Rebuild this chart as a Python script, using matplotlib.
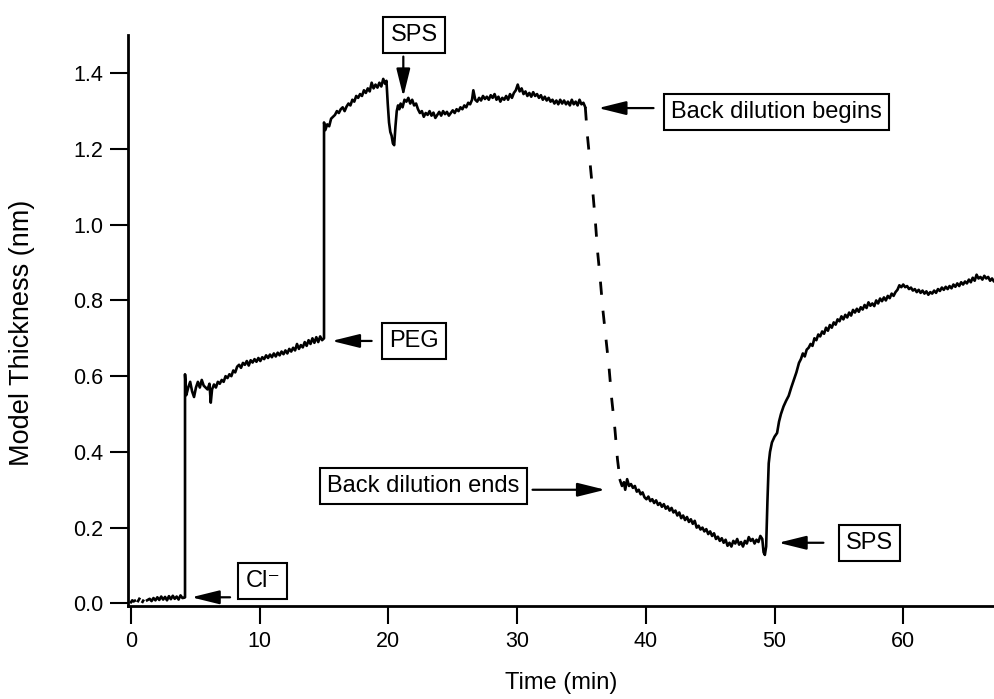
import numpy as np
import matplotlib
matplotlib.use('Agg')
import matplotlib.pyplot as plt
from matplotlib.patches import ArrowStyle

# thickness trace (solid part); NaN = gap in the record
time_min = [
    0.00, 0.10, 0.20, 0.30, 0.40, 0.55, 0.65, 0.75, 0.90, 0.95, 1.05,
    1.25, 1.45, 1.60, 1.75, 1.90, 2.05, 2.20, 2.35, 2.50, 2.65, 2.80,
    2.95, 3.10, 3.25, 3.40, 3.55, 3.70, 3.85, 4.00, 4.15, 4.20,
    # Cl- step
    4.20, 4.30, 4.45, 4.60, 4.75, 4.90, 5.05, 5.20, 5.35, 5.50, 5.65,
    5.80, 5.95, 6.10, 6.20, 6.30, 6.45, 6.60, 6.75, 6.90, 7.05, 7.20,
    7.35, 7.50, 7.65, 7.80, 7.95, 8.10, 8.25, 8.40, 8.55, 8.70, 8.85,
    9.00, 9.15, 9.30, 9.45, 9.60, 9.75, 9.90, 10.05, 10.20, 10.35,
    10.50, 10.65, 10.80, 10.95, 11.10, 11.25, 11.40, 11.55, 11.70,
    11.85, 12.00, 12.15, 12.30, 12.45, 12.60, 12.75, 12.90, 13.05,
    13.20, 13.35, 13.50, 13.65, 13.80, 13.95, 14.10, 14.25, 14.40,
    14.55, 14.70, 14.85, 15.00,
    # PEG step
    15.00, 15.10, 15.25, 15.40, 15.55, 15.70, 15.85, 16.00, 16.15,
    16.30, 16.45, 16.60, 16.75, 16.90, 17.05, 17.20, 17.35, 17.50,
    17.65, 17.80, 17.95, 18.10, 18.25, 18.40, 18.55, 18.70, 18.85,
    19.00, 19.15, 19.30, 19.45, 19.60, 19.75, 19.85, 19.95, 20.05,
    20.15, 20.25, 20.35, 20.45, 20.55, 20.65, 20.75, 20.85, 20.95,
    21.10, 21.25, 21.40, 21.55, 21.70, 21.85, 22.00, 22.15, 22.30,
    22.45, 22.60, 22.75, 22.90, 23.05, 23.20, 23.35, 23.50, 23.65,
    23.80, 23.95, 24.10, 24.25, 24.40, 24.55, 24.70, 24.85, 25.00,
    25.15, 25.30, 25.45, 25.60, 25.75, 25.90, 26.05, 26.20, 26.35,
    26.50, 26.60, 26.75, 26.90, 27.05, 27.20, 27.35, 27.50, 27.65,
    27.80, 27.95, 28.10, 28.25, 28.40, 28.55, 28.70, 28.85, 29.00,
    29.15, 29.30, 29.45, 29.60, 29.75, 29.90, 30.05, 30.20, 30.35,
    30.50, 30.65, 30.80, 30.95, 31.10, 31.25, 31.40, 31.55, 31.70,
    31.85, 32.00, 32.15, 32.30, 32.45, 32.60, 32.75, 32.90, 33.05,
    33.20, 33.35, 33.50, 33.65, 33.80, 33.95, 34.10, 34.25, 34.40,
    34.55, 34.70, 34.85, 35.00, 35.15, 35.30, 35.31,
    # after back dilution
    38.00, 38.15, 38.30, 38.40, 38.55, 38.70, 38.85, 39.00, 39.15,
    39.30, 39.45, 39.60, 39.75, 39.90, 40.05, 40.20, 40.35, 40.50,
    40.65, 40.80, 40.95, 41.10, 41.25, 41.40, 41.55, 41.70, 41.85,
    42.00, 42.15, 42.30, 42.45, 42.60, 42.75, 42.90, 43.05, 43.20,
    43.35, 43.50, 43.65, 43.80, 43.95, 44.10, 44.25, 44.40, 44.55,
    44.70, 44.85, 45.00, 45.15, 45.30, 45.45, 45.60, 45.75, 45.90,
    46.05, 46.20, 46.35, 46.50, 46.65, 46.80, 46.95, 47.10, 47.25,
    47.40, 47.55, 47.70, 47.85, 48.00, 48.15, 48.30, 48.45, 48.60,
    48.75, 48.90, 49.05, 49.15, 49.25, 49.35,
    # SPS rise
    49.45, 49.55, 49.65, 49.80, 50.00, 50.20, 50.35, 50.50, 50.70,
    50.90, 51.10, 51.30, 51.50, 51.70, 51.90, 52.05, 52.20, 52.35,
    52.50, 52.65, 52.80, 52.95, 53.10, 53.25, 53.40, 53.55, 53.70,
    53.85, 54.00, 54.15, 54.30, 54.45, 54.60, 54.75, 54.90, 55.05,
    55.20, 55.35, 55.50, 55.65, 55.80, 55.95, 56.10, 56.25, 56.40,
    56.55, 56.70, 56.85, 57.00, 57.15, 57.30, 57.45, 57.60, 57.75,
    57.90, 58.05, 58.20, 58.35, 58.50, 58.65, 58.80, 58.95, 59.10,
    59.25, 59.40, 59.55, 59.70, 59.85, 60.00, 60.15, 60.30, 60.45,
    60.60, 60.75, 60.90, 61.05, 61.20, 61.35, 61.50, 61.65, 61.80,
    61.95, 62.10, 62.25, 62.40, 62.55, 62.70, 62.85, 63.00, 63.15,
    63.30, 63.45, 63.60, 63.75, 63.90, 64.05, 64.20, 64.35, 64.50,
    64.65, 64.80, 64.95, 65.10, 65.25, 65.40, 65.55, 65.70, 65.85,
    66.00, 66.15, 66.30, 66.45, 66.60, 66.75, 66.90, 67.05, 67.20,
]
thickness_nm = [
    0.003, 0.008, 0.005, 0.007, np.nan, 0.006, 0.012, np.nan, 0.004, 0.007, np.nan,
    0.008, 0.012, 0.006, 0.014, 0.008, 0.016, 0.009, 0.018, 0.010, 0.017, 0.008,
    0.019, 0.011, 0.020, 0.012, 0.018, 0.010, 0.021, 0.014, 0.015, 0.016,
    0.605, 0.550, 0.570, 0.585, 0.560, 0.545, 0.570, 0.585, 0.570, 0.590, 0.575,
    0.570, 0.565, 0.580, 0.530, 0.565, 0.578, 0.570, 0.585, 0.580, 0.590, 0.585,
    0.600, 0.595, 0.605, 0.600, 0.615, 0.610, 0.625, 0.630, 0.622, 0.635, 0.630,
    0.640, 0.628, 0.642, 0.636, 0.645, 0.638, 0.648, 0.640, 0.650, 0.645,
    0.655, 0.648, 0.657, 0.650, 0.660, 0.652, 0.662, 0.655, 0.665,
    0.658, 0.668, 0.660, 0.672, 0.665, 0.675, 0.668, 0.685, 0.672,
    0.682, 0.676, 0.690, 0.680, 0.695, 0.685, 0.700, 0.688, 0.703,
    0.690, 0.705, 0.695, 0.700,
    1.270, 1.250, 1.265, 1.260, 1.280, 1.285, 1.290, 1.300, 1.295,
    1.305, 1.310, 1.300, 1.312, 1.320, 1.315, 1.330, 1.325, 1.340,
    1.335, 1.345, 1.340, 1.355, 1.348, 1.360, 1.352, 1.375, 1.360,
    1.370, 1.362, 1.375, 1.365, 1.385, 1.372, 1.380, 1.320, 1.270,
    1.245, 1.235, 1.215, 1.210, 1.260, 1.300, 1.315, 1.305, 1.320,
    1.310, 1.330, 1.325, 1.335, 1.320, 1.330, 1.315, 1.320, 1.305,
    1.295, 1.300, 1.285, 1.295, 1.290, 1.300, 1.288, 1.296, 1.282,
    1.290, 1.298, 1.288, 1.300, 1.292, 1.298, 1.288, 1.295, 1.302,
    1.295, 1.305, 1.300, 1.310, 1.305, 1.315, 1.310, 1.322, 1.318,
    1.330, 1.355, 1.330, 1.325, 1.335, 1.328, 1.340, 1.332, 1.338,
    1.330, 1.342, 1.335, 1.345, 1.330, 1.338, 1.325, 1.335, 1.330,
    1.340, 1.330, 1.345, 1.335, 1.348, 1.355, 1.370, 1.352, 1.360,
    1.345, 1.352, 1.340, 1.348, 1.338, 1.350, 1.340, 1.345, 1.335,
    1.342, 1.330, 1.338, 1.328, 1.335, 1.325, 1.330, 1.320, 1.328,
    1.318, 1.330, 1.320, 1.328, 1.318, 1.325, 1.315, 1.330, 1.318,
    1.325, 1.315, 1.330, 1.318, 1.322, 1.310, np.nan,
    0.325, 0.310, 0.320, 0.300, 0.328, 0.310, 0.315, 0.305, 0.310,
    0.295, 0.300, 0.288, 0.293, 0.280, 0.275, 0.282, 0.270, 0.275,
    0.265, 0.272, 0.260, 0.265, 0.255, 0.262, 0.250, 0.256, 0.245,
    0.252, 0.240, 0.245, 0.232, 0.240, 0.225, 0.232, 0.220, 0.228,
    0.215, 0.222, 0.210, 0.218, 0.200, 0.205, 0.195, 0.200, 0.190,
    0.196, 0.183, 0.190, 0.178, 0.185, 0.170, 0.176, 0.165, 0.172,
    0.160, 0.168, 0.152, 0.160, 0.150, 0.165, 0.158, 0.170, 0.155,
    0.162, 0.150, 0.165, 0.158, 0.175, 0.165, 0.170, 0.158, 0.168,
    0.162, 0.178, 0.170, 0.135, 0.128, 0.150,
    0.270, 0.370, 0.400, 0.425, 0.440, 0.450, 0.480, 0.500, 0.520,
    0.535, 0.548, 0.570, 0.590, 0.610, 0.635, 0.645, 0.660, 0.652,
    0.670, 0.675, 0.685, 0.680, 0.700, 0.695, 0.710, 0.705, 0.718,
    0.712, 0.728, 0.720, 0.735, 0.728, 0.742, 0.736, 0.750, 0.745,
    0.758, 0.750, 0.762, 0.755, 0.768, 0.760, 0.775, 0.768, 0.778,
    0.770, 0.782, 0.776, 0.788, 0.780, 0.795, 0.786, 0.792, 0.785,
    0.800, 0.792, 0.805, 0.798, 0.808, 0.800, 0.812, 0.806, 0.818,
    0.812, 0.822, 0.828, 0.840, 0.835, 0.842, 0.835, 0.838, 0.830,
    0.834, 0.826, 0.830, 0.822, 0.828, 0.820, 0.826, 0.818, 0.824,
    0.815, 0.822, 0.818, 0.826, 0.820, 0.830, 0.825, 0.834, 0.828,
    0.836, 0.830, 0.838, 0.832, 0.842, 0.836, 0.845, 0.838, 0.848,
    0.842, 0.850, 0.845, 0.855, 0.848, 0.860, 0.852, 0.868, 0.858,
    0.862, 0.855, 0.865, 0.858, 0.862, 0.852, 0.858, 0.850, 0.855,
]

# fast drop during back dilution, drawn dashed in the original
dilution_time = [35.30, 35.45, 35.65, 35.90, 36.10, 36.25, 36.45, 36.65,
                 36.90, 37.15, 37.35, 37.60, 37.80, 38.00]
dilution_thick = [1.310, 1.240, 1.170, 1.080, 1.000, 0.930, 0.860, 0.780,
                  0.700, 0.620, 0.540, 0.460, 0.380, 0.325]

x_ticks = [0, 10, 20, 30, 40, 50, 60]
y_ticks = [0.0, 0.2, 0.4, 0.6, 0.8, 1.0, 1.2, 1.4]

# annotation: label, arrow tip, arrow tail, text centre (data coords)
notes = [
    ('Cl\u207b', (4.7, 0.016), (7.7, 0.016), (10.25, 0.059)),
    ('PEG', (15.6, 0.693), (18.7, 0.693), (22.0, 0.693)),
    ('SPS', (21.16, 1.338), (21.16, 1.444), (22.0, 1.501)),
    ('Back dilution begins', (36.3, 1.308), (40.6, 1.308), (50.15, 1.298)),
    ('Back dilution ends', (36.85, 0.300), (31.2, 0.300), (22.73, 0.310)),
    ('SPS', (50.3, 0.160), (53.8, 0.160), (57.4, 0.160)),
]

plt.rcParams['font.family'] = ['Liberation Sans', 'DejaVu Sans']
plt.rcParams['lines.scale_dashes'] = False

fig = plt.figure(figsize=(9.95, 6.99), dpi=100)
ax = fig.add_axes([128 / 995, 1 - 606 / 699, 1 - 128 / 995, 571 / 699])

ax.plot(time_min, thickness_nm, color='black', lw=1.9)
ax.plot(dilution_time, dilution_thick, color='black', lw=2.0, dashes=(9.5, 11.5))

head = ArrowStyle('-|>', head_length=1.7, head_width=0.42)
for label, tip, tail, txt in notes:
    ax.annotate('', xy=tip, xytext=tail,
                arrowprops=dict(arrowstyle=head, mutation_scale=10, color='black',
                                lw=1.6, shrinkA=0, shrinkB=0))
    ax.text(txt[0], txt[1], label, fontsize=17, ha='center', va='center',
            clip_on=False,
            bbox=dict(boxstyle='square,pad=0.3', fc='white', ec='black', lw=1.5))

ax.set_xlim(-0.23, 67.13)
ax.set_ylim(-0.007, 1.501)
ax.set_xticks(x_ticks)
ax.set_yticks(y_ticks)
ax.set_yticklabels(['%.1f' % v for v in y_ticks])
for side in ('top', 'right'):
    ax.spines[side].set_visible(False)
for side in ('left', 'bottom'):
    ax.spines[side].set_linewidth(2)
ax.tick_params(direction='out', length=13, width=1.5, labelsize=15.5, pad=5)

ax.set_xlabel('Time (min)', fontsize=17, va='center')
ax.set_ylabel('Model Thickness (nm)', fontsize=19.5, va='center')
ax.xaxis.set_label_coords(0.50, -0.135)
ax.yaxis.set_label_coords(-0.122, 0.478)

fig.savefig('out.png', dpi=100)
